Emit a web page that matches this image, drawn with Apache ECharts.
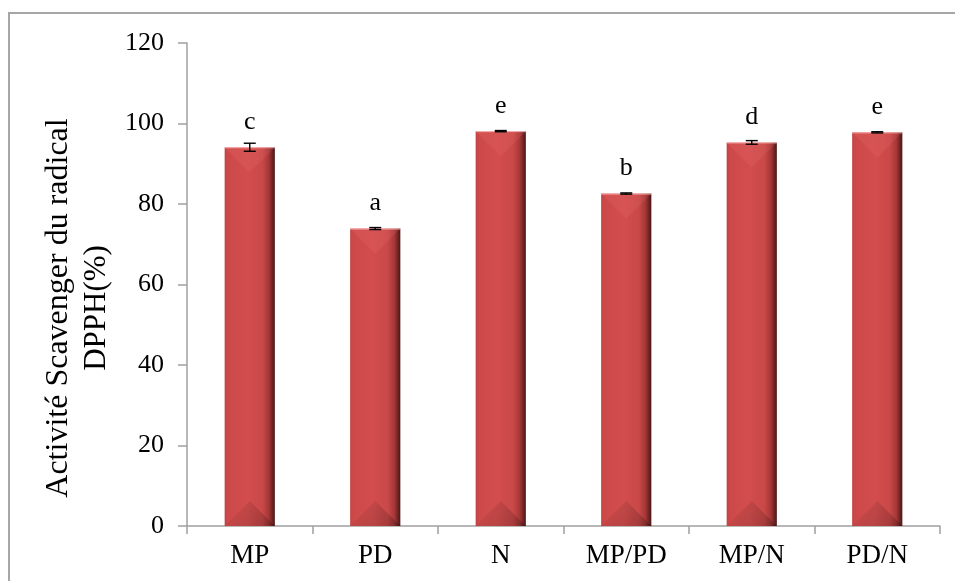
<!DOCTYPE html>
<html>
<head>
<meta charset="utf-8">
<script src="https://cdn.jsdelivr.net/npm/echarts@6/dist/echarts.min.js"></script>
<style>
  html, body { margin: 0; padding: 0; background: #fff; }
  #chart { width: 955px; height: 581px; }
</style>
</head>
<body>
<div id="chart"></div>
<script>
// Antioxidant activity per extract / mixture
const categories = ['MP', 'PD', 'N', 'MP/PD', 'MP/N', 'PD/N'];
const values = [94.1, 73.9, 98.1, 82.6, 95.3, 97.8];
const errors = [1.0, 0.25, 0.15, 0.15, 0.45, 0.15];
const letters = ['c', 'a', 'e', 'b', 'd', 'e'];
const yTicks = { min: 0, max: 120, interval: 20 };

const SERIF = "'Liberation Serif', 'Times New Roman', serif";
const chart = echarts.init(document.getElementById('chart'));

// Bevelled bar drawn from the category/value scales
function renderBar(params, api) {
  const idx = api.value(0);
  const val = api.value(1);
  const top = api.coord([idx, val]);
  const base = api.coord([idx, 0]);
  const w = api.size([1, 0])[0] * 0.4;
  const x0 = top[0] - w / 2, x1 = top[0] + w / 2;
  const yt = top[1], yb = base[1], xc = top[0];
  const bev = w / 2;
  return {
    type: 'group',
    children: [
      {
        type: 'rect',
        shape: { x: x0, y: yt, width: w, height: yb - yt },
        style: {
          fill: new echarts.graphic.LinearGradient(0, 0, 1, 0, [
            { offset: 0, color: '#c04343' },
            { offset: 0.06, color: '#cd4949' },
            { offset: 0.45, color: '#d34d4d' },
            { offset: 0.75, color: '#c94848' },
            { offset: 0.88, color: '#a63737' },
            { offset: 1, color: '#4a1616' }
          ])
        }
      },
      {
        type: 'polygon',
        shape: { points: [[x0, yt], [x1, yt], [xc, yt + bev]] },
        style: { fill: 'rgba(255,140,140,0.12)' }
      },
      {
        type: 'polygon',
        shape: { points: [[x0, yb], [x1, yb], [xc, yb - bev]] },
        style: {
          fill: new echarts.graphic.LinearGradient(0, 0, 1, 1, [
            { offset: 0, color: 'rgba(0,0,0,0.0)' },
            { offset: 1, color: 'rgba(0,0,0,0.22)' }
          ])
        }
      },
      {
        type: 'line',
        shape: { x1: x0, y1: yt + 0.5, x2: x1, y2: yt + 0.5 },
        style: { stroke: 'rgba(255,190,190,0.8)', lineWidth: 1 }
      }
    ]
  };
}

// Error bar (±SD) with caps, plus the significance letter above the bar
function renderError(params, api) {
  const idx = api.value(0);
  const val = api.value(1);
  const err = api.value(2);
  const hi = api.coord([idx, val + err]);
  const lo = api.coord([idx, val - err]);
  const top = api.coord([idx, val]);
  const x = hi[0];
  const cap = 6;
  const st = { stroke: '#000', lineWidth: 1.4 };
  return {
    type: 'group',
    children: [
      { type: 'line', shape: { x1: x, y1: hi[1], x2: x, y2: lo[1] }, style: st },
      { type: 'line', shape: { x1: x - cap, y1: hi[1], x2: x + cap, y2: hi[1] }, style: st },
      { type: 'line', shape: { x1: x - cap, y1: lo[1], x2: x + cap, y2: lo[1] }, style: st },
      {
        type: 'text',
        x: x, y: top[1] - 25,
        style: {
          text: letters[idx], fill: '#000',
          font: '26px ' + SERIF, align: 'center', verticalAlign: 'middle'
        }
      }
    ]
  };
}

const barData = values.map((v, i) => [i, v]);
const errData = values.map((v, i) => [i, v, errors[i]]);

chart.setOption({
  animation: false,
  backgroundColor: '#fff',
  grid: { left: 187, right: 15, top: 43, bottom: 55 },
  xAxis: {
    type: 'category',
    data: categories,
    boundaryGap: true,
    axisLine: { lineStyle: { color: '#a0a0a0', width: 1.5 } },
    axisTick: { show: true, length: 8, lineStyle: { color: '#a0a0a0', width: 1.5 } },
    axisLabel: { color: '#000', fontFamily: SERIF, fontSize: 27, margin: 16 }
  },
  yAxis: {
    type: 'value',
    min: yTicks.min, max: yTicks.max, interval: yTicks.interval,
    axisLine: { show: true, lineStyle: { color: '#a0a0a0', width: 1.5 } },
    axisTick: { show: true, length: 9, lineStyle: { color: '#a0a0a0', width: 1.5 } },
    splitLine: { show: false },
    axisLabel: { color: '#000', fontFamily: SERIF, fontSize: 26, margin: 23 }
  },
  graphic: [
    {
      type: 'rect',
      shape: { x: 9, y: 13, width: 1200, height: 800 },
      style: { fill: 'none', stroke: '#a6a6a6', lineWidth: 2 },
      silent: true
    },
    {
      type: 'text', x: 59, y: 308, rotation: Math.PI / 2,
      style: {
        text: 'Activité Scavenger du radical', fill: '#000',
        font: '32px ' + SERIF, align: 'center', verticalAlign: 'middle'
      }
    },
    {
      type: 'text', x: 97, y: 308, rotation: Math.PI / 2,
      style: {
        text: 'DPPH(%)', fill: '#000',
        font: '31px ' + SERIF, align: 'center', verticalAlign: 'middle'
      }
    }
  ],
  series: [
    {
      type: 'custom',
      renderItem: renderBar,
      data: barData,
      encode: { x: 0, y: 1 },
      z: 2
    },
    {
      type: 'custom',
      renderItem: renderError,
      data: errData,
      encode: { x: 0, y: 1 },
      z: 3
    }
  ]
});
</script>
</body>
</html>
